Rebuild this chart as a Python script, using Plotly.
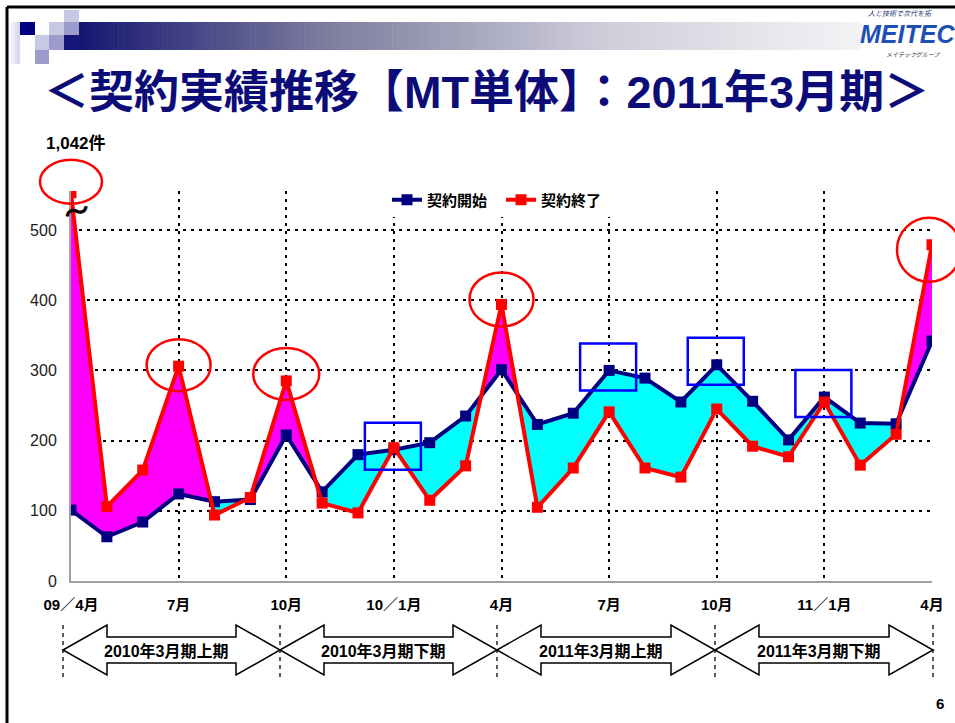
import plotly.graph_objects as go

# ---------------- data ----------------
months = list(range(25))  # 2009/4 .. 2011/4
tick_pos = [0, 3, 6, 9, 12, 15, 18, 21, 24]
tick_text = ["09／4月", "7月", "10月", "10／1月", "4月", "7月", "10月", "11／1月", "4月"]
start_name = "契約開始"
end_name = "契約終了"
start_vals = [101, 63, 84, 124, 113, 116, 208, 127, 180, 187, 197, 235, 301, 223, 239,
              300, 289, 255, 308, 256, 201, 262, 225, 224, 342]
end_vals = [553, 106, 158, 306, 94, 119, 285, 111, 97, 190, 115, 164, 394, 105, 161,
            241, 161, 148, 245, 192, 177, 255, 165, 209, 479]
y_ticks = [0, 100, 200, 300, 400, 500]
first_label = "1,042件"
periods = ["2010年3月期上期", "2010年3月期下期", "2011年3月期上期", "2011年3月期下期"]
circle_idx = [0, 3, 6, 12, 24]
box_idx = [9, 15, 18, 21]
title = "＜契約実績推移【MT単体】：2011年3月期＞"

# ---------------- geometry / style ----------------
W, H = 955, 723
L, R, T, B = 71, 932, 191, 581
YMAX = 500 * (B - T) / (B - 230)
FONT = "Liberation Sans, Noto Sans CJK JP, sans-serif"
NAVY = "#000080"
RED = "#ff0000"


def xp(p):
    return (p - L) / (R - L)


def yp(p):
    return (B - p) / (B - T)


def dx(i):
    return L + i * (R - L) / 24


def dy(v):
    return B - v * (B - T) / YMAX


# ---------------- fill regions between the two series ----------------
pts = []
for i in range(24):
    pts.append((months[i], end_vals[i], start_vals[i]))
    d0 = end_vals[i] - start_vals[i]
    d1 = end_vals[i + 1] - start_vals[i + 1]
    if d0 * d1 < 0:
        t = d0 / (d0 - d1)
        xv = months[i] + t * (months[i + 1] - months[i])
        yv = end_vals[i] + t * (end_vals[i + 1] - end_vals[i])
        pts.append((xv, yv, yv))
pts.append((months[24], end_vals[24], start_vals[24]))

runs = []
cur = None
for k in range(len(pts) - 1):
    mid = (pts[k][1] + pts[k + 1][1]) / 2 - (pts[k][2] + pts[k + 1][2]) / 2
    s = 1 if mid >= 0 else -1
    if cur and cur[0] == s:
        cur[2] = k + 1
    else:
        cur = [s, k, k + 1]
        runs.append(cur)

poly = {1: ([], []), -1: ([], [])}
for s, a, b in runs:
    seg = pts[a:b + 1]
    xs = [p[0] for p in seg] + [p[0] for p in reversed(seg)]
    ys = [p[1] for p in seg] + [p[2] for p in reversed(seg)]
    poly[s][0].extend(xs + [None])
    poly[s][1].extend(ys + [None])

fig = go.Figure()
fig.add_trace(go.Scatter(x=poly[1][0], y=poly[1][1], fill="toself", fillcolor="#ff00ff",
                         mode="lines", line=dict(width=0), showlegend=False, hoverinfo="skip"))
fig.add_trace(go.Scatter(x=poly[-1][0], y=poly[-1][1], fill="toself", fillcolor="#00ffff",
                         mode="lines", line=dict(width=0), showlegend=False, hoverinfo="skip"))
fig.add_trace(go.Scatter(x=months, y=start_vals, name=start_name, mode="lines+markers",
                         line=dict(color=NAVY, width=4),
                         marker=dict(symbol="square", size=11, color=NAVY)))
fig.add_trace(go.Scatter(x=months, y=end_vals, name=end_name, mode="lines+markers",
                         line=dict(color=RED, width=4),
                         marker=dict(symbol="square", size=11, color=RED)))

shapes = []
# slide frame
shapes.append(dict(type="line", xref="paper", yref="paper", x0=xp(7), x1=xp(960), y0=yp(7), y1=yp(7),
                   line=dict(color="black", width=3)))
shapes.append(dict(type="line", xref="paper", yref="paper", x0=xp(7), x1=xp(7), y0=yp(7), y1=yp(730),
                   line=dict(color="black", width=3)))


def rect(x0, y0, x1, y1, color):
    shapes.append(dict(type="rect", xref="paper", yref="paper", x0=xp(x0), x1=xp(x1),
                       y0=yp(y0), y1=yp(y1), fillcolor=color, line=dict(width=0), layer="below"))


# header gradient bar
def lerp(c0, c1, t):
    return tuple(int(round(a + (b - a) * t)) for a, b in zip(c0, c1))


stops = [(79, (22, 22, 114)), (320, (122, 122, 156)), (600, (205, 205, 218)), (862, (244, 244, 246))]
n = 160
for k in range(n):
    x0 = 79 + (862 - 79) * k / n
    x1 = 79 + (862 - 79) * (k + 1) / n + 0.6
    xm = (x0 + x1) / 2
    for j in range(len(stops) - 1):
        if stops[j][0] <= xm <= stops[j + 1][0]:
            t = (xm - stops[j][0]) / (stops[j + 1][0] - stops[j][0])
            c = lerp(stops[j][1], stops[j + 1][1], t)
            break
    rect(x0, 22, min(x1, 862), 50, "rgb(%d,%d,%d)" % c)

LIGHT, MED = "#c8c8e4", "#9c9ccc"
rect(64, 10, 79, 22, LIGHT)
rect(20, 22, 35, 35, NAVY)
rect(49, 22, 64, 35, LIGHT)
rect(64, 22, 79, 35, MED)
rect(35, 35, 49, 50, LIGHT)
rect(49, 35, 64, 50, MED)
rect(35, 50, 49, 64, MED)
rect(64, 35, 79, 50, "#16167a")
for k, c in enumerate(["#fafafd", "#f0f0f8", "#e4e4f2", "#d8d8ec"]):
    rect(8 + k * 3, 22, 11 + k * 3, 64, c)

# red ellipses around end-series peaks
ell_geom = {0: (31, 22, 11), 3: (32, 26, 1), 6: (33, 26, 7), 12: (32, 27, 5), 24: (32, 32, -5)}
for i in circle_idx:
    rx, ry, up = ell_geom[i]
    cx, cy = dx(months[i]), dy(end_vals[i]) - up
    if i == 24:
        cx -= 3
    shapes.append(dict(type="circle", xref="paper", yref="paper", x0=xp(cx - rx), x1=xp(cx + rx),
                       y0=yp(cy + ry), y1=yp(cy - ry), line=dict(color=RED, width=2.5)))

# blue boxes around start-series peaks
for i in box_idx:
    shapes.append(dict(type="rect", xref="x", yref="y", xsizemode="pixel", ysizemode="pixel",
                       xanchor=months[i], yanchor=start_vals[i], x0=-29, x1=27, y0=-20, y1=27,
                       line=dict(color="#0000ff", width=2.5)))

# period arrows
arrow_px = [63, 280, 497, 715, 933]
cy = 650
for j in range(4):
    xa, xb = arrow_px[j], arrow_px[j + 1]
    hl, hh, bh = 44, 25, 13
    P = [(xa, cy), (xa + hl, cy - hh), (xa + hl, cy - bh), (xb - hl, cy - bh), (xb - hl, cy - hh),
         (xb, cy), (xb - hl, cy + hh), (xb - hl, cy + bh), (xa + hl, cy + bh), (xa + hl, cy + hh)]
    path = "M " + " L ".join("%.5f,%.5f" % (xp(a), yp(b)) for a, b in P) + " Z"
    shapes.append(dict(type="path", xref="paper", yref="paper", path=path, fillcolor="white",
                       line=dict(color="black", width=1.5)))
for xa in arrow_px:
    shapes.append(dict(type="line", xref="paper", yref="paper", x0=xp(xa), x1=xp(xa),
                       y0=yp(625), y1=yp(677), line=dict(color="black", width=1.3, dash="4px,4px")))


def note(x, y, text, size, color="black", xanchor="center", angle=0):
    return dict(x=xp(x), y=yp(y), xref="paper", yref="paper", text=text, showarrow=False,
                xanchor=xanchor, yanchor="middle", textangle=angle,
                font=dict(family=FONT, size=size, color=color))


annotations = [
    note(486, 92, "<b>" + title + "</b>", 45, "#0c0c78"),
    note(76, 143, "<b>" + first_label + "</b>", 17),
    note(77, 212, "<b>～</b>", 26, angle=-20),
    note(940, 703, "<b>6</b>", 15),
    note(858, 34, "<b><i>MEITEC</i></b>", 25, "#1e50b4", xanchor="left"),
    note(866, 13, "<i>人と技術で次代を拓</i>", 7, "#203070", xanchor="left"),
    note(884, 55, "<i>メイテックグループ</i>", 6, "#303030", xanchor="left"),
]
for j in range(4):
    xa, xb = arrow_px[j], arrow_px[j + 1]
    annotations.append(note((xa + xb) / 2 - 5, 651, "<b>" + periods[j] + "</b>", 16))

fig.update_layout(
    width=W, height=H,
    margin=dict(l=L, r=W - R, t=T, b=H - B, pad=0),
    paper_bgcolor="white", plot_bgcolor="white",
    shapes=shapes, annotations=annotations,
    showlegend=True,
    legend=dict(orientation="h", x=xp(387), y=yp(200), xanchor="left", yanchor="middle",
                bgcolor="white", font=dict(family=FONT, size=15, color="black", weight="bold"),
                itemwidth=30, entrywidth=69, tracegroupgap=0),
    xaxis=dict(range=[0, 24], tickvals=tick_pos, ticktext=tick_text, showgrid=True,
               gridcolor="black", griddash="3px,5px", gridwidth=2, zeroline=False,
               showline=True, linecolor="#a0a0a0", linewidth=2, ticks="", ticklabelstandoff=9,
               tickfont=dict(family=FONT, size=15, color="black", weight="bold")),
    yaxis=dict(range=[0, YMAX], tickvals=y_ticks, showgrid=True, gridcolor="black",
               griddash="3px,5px", gridwidth=2, zeroline=False, showline=True,
               linecolor="#a0a0a0", linewidth=2, ticks="", ticklabelstandoff=9,
               tickfont=dict(family=FONT, size=16, color="#202020")),
)

fig.write_html("out.html", config={"displayModeBar": False},
               post_script="document.body.style.margin='0px';")
